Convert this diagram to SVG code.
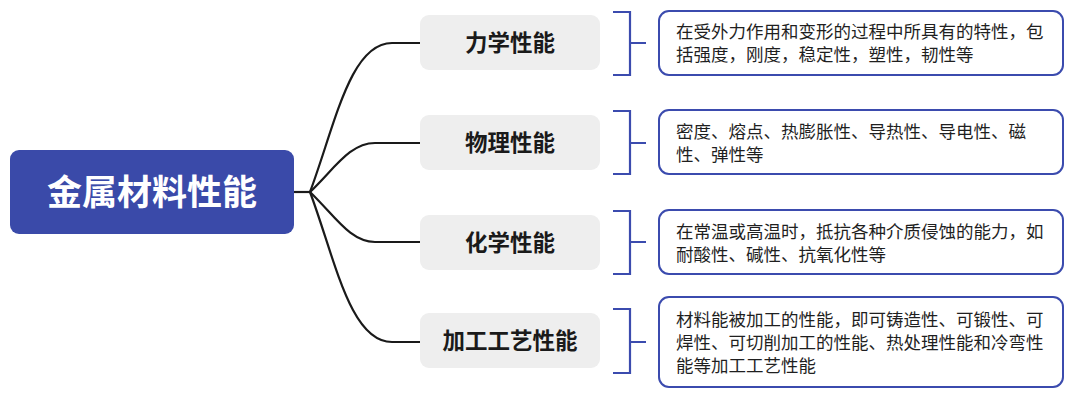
<svg xmlns="http://www.w3.org/2000/svg" width="1080" height="401" viewBox="0 0 1080 401">
<style>
.cjk{font-family:"Noto Sans CJK SC","Noto Sans",sans-serif}
.root-t{font-size:35px;font-weight:bold;fill:#ffffff}
.child{fill:#eeeeee}
.child-t{font-size:22.5px;font-weight:bold;fill:#1a1a1a}
.det{fill:#ffffff;stroke:#3b4bae;stroke-width:2}
.det-t{font-size:17.5px;fill:#1f1f1f}
.br{fill:none;stroke:#3b4bae;stroke-width:2.2}
.conn{fill:none;stroke:#1a1a1a;stroke-width:2.2}
</style>
<rect width="1080" height="401" fill="#ffffff"/>
<g id="connectors">
<path class="conn" d="M294,192 L310,192"/>
<path class="conn" d="M310,192 C335,125 350,43 392,43 L420,43"/>
<path class="conn" d="M310,192 C335,168 350,143 375,143 L420,143"/>
<path class="conn" d="M310,192 C335,216 350,242 375,242 L420,242"/>
<path class="conn" d="M310,192 C335,259 350,342 392,342 L420,342"/>
<path class="br" d="M613,12 L630,12 L630,75 L613,75 M630,43 L646,43"/>
<path class="br" d="M613,111 L630,111 L630,174 L613,174 M630,143 L646,143"/>
<path class="br" d="M613,211 L630,211 L630,274 L613,274 M630,242 L646,242"/>
<path class="br" d="M613,309 L630,309 L630,373 L613,373 M630,342 L646,342"/>
</g>
<g id="root">
<rect x="10" y="150" width="284" height="84" rx="9" fill="#3a4aa9"/>
<text class="cjk root-t" x="152" y="205" text-anchor="middle">金属材料性能</text>
</g>
<g id="n1">
<rect class="child" x="420" y="15" width="180" height="55" rx="9"/>
<text class="cjk child-t" x="510" y="51" text-anchor="middle">力学性能</text>
</g>
<g id="n2">
<rect class="child" x="420" y="115" width="180" height="55" rx="9"/>
<text class="cjk child-t" x="510" y="151" text-anchor="middle">物理性能</text>
</g>
<g id="n3">
<rect class="child" x="420" y="215" width="180" height="55" rx="9"/>
<text class="cjk child-t" x="510" y="251" text-anchor="middle">化学性能</text>
</g>
<g id="n4">
<rect class="child" x="420" y="313" width="180" height="55" rx="9"/>
<text class="cjk child-t" x="510" y="349" text-anchor="middle">加工工艺性能</text>
</g>
<g id="d1">
<rect class="det" x="659" y="11" width="404" height="64" rx="10"/>
<text class="cjk det-t" x="676" y="38">在受外力作用和变形的过程中所具有的特性，包</text>
<text class="cjk det-t" x="676" y="61">括强度，刚度，稳定性，塑性，韧性等</text>
</g>
<g id="d2">
<rect class="det" x="659" y="110" width="404" height="64" rx="10"/>
<text class="cjk det-t" x="676" y="138">密度、熔点、热膨胀性、导热性、导电性、磁</text>
<text class="cjk det-t" x="676" y="161">性、弹性等</text>
</g>
<g id="d3">
<rect class="det" x="659" y="210" width="404" height="64" rx="10"/>
<text class="cjk det-t" x="676" y="238">在常温或高温时，抵抗各种介质侵蚀的能力，如</text>
<text class="cjk det-t" x="676" y="261">耐酸性、碱性、抗氧化性等</text>
</g>
<g id="d4">
<rect class="det" x="659" y="297" width="404" height="90" rx="10"/>
<text class="cjk det-t" x="676" y="326">材料能被加工的性能，即可铸造性、可锻性、可</text>
<text class="cjk det-t" x="676" y="349">焊性、可切削加工的性能、热处理性能和冷弯性</text>
<text class="cjk det-t" x="676" y="372">能等加工工艺性能</text>
</g>
</svg>
